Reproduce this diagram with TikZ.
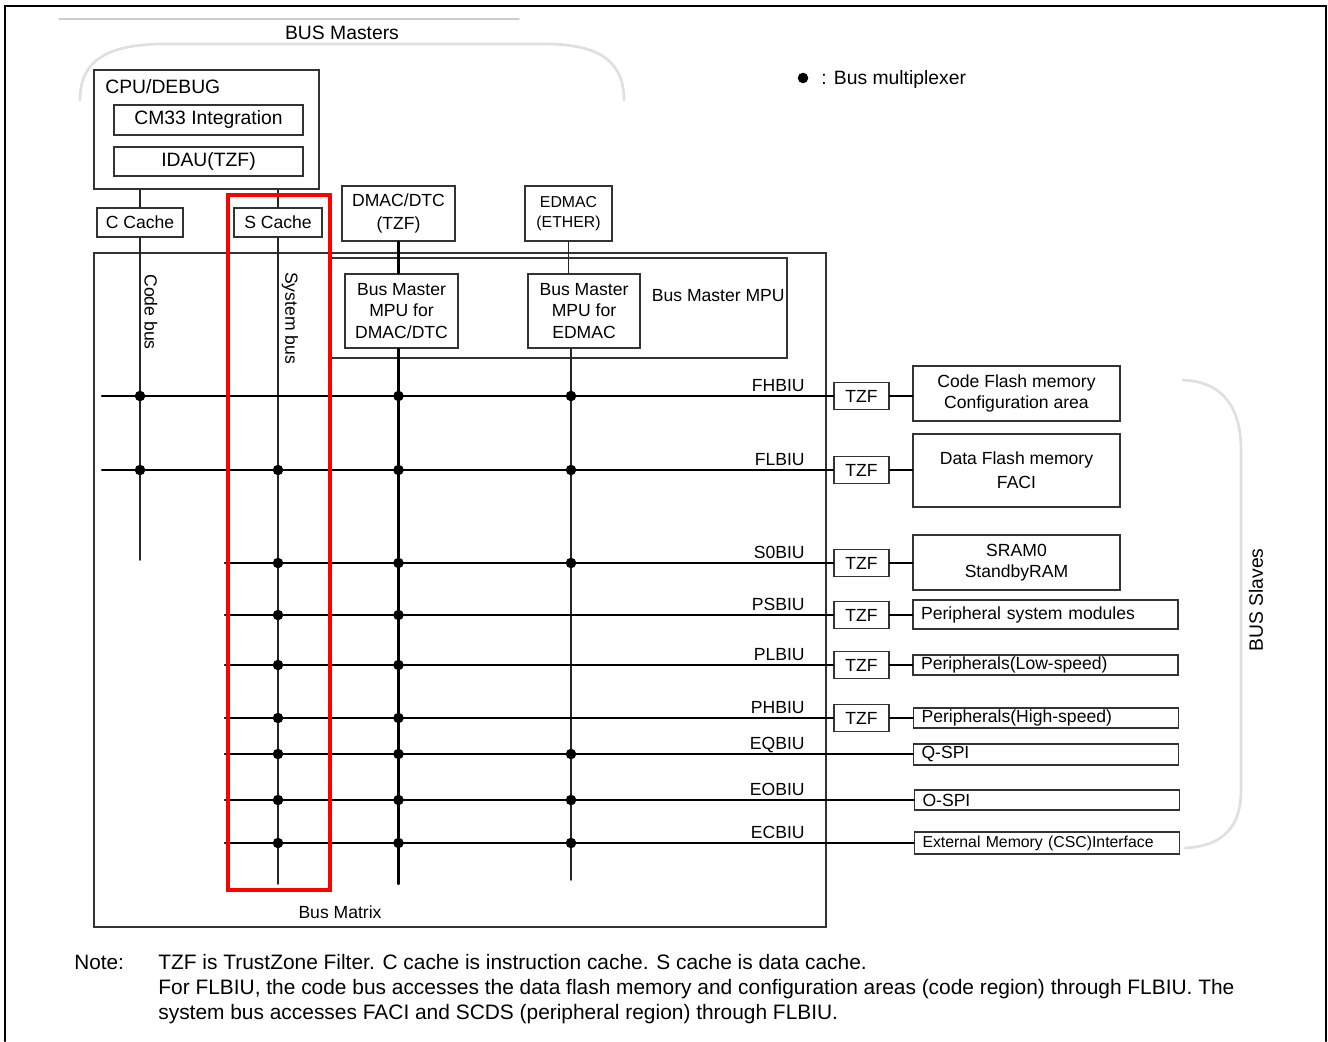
\documentclass[tikz,border=0pt]{standalone}
\usepackage{fontspec}
\setmainfont{Liberation Sans}
\usepackage{xcolor}

\tikzset{
  box/.style={draw=black!80,line width=0.8pt,inner sep=0pt,align=center},
  wh/.style 2 args={minimum width=#1*0.02cm,minimum height=#2*0.02cm},
  slavel/.style={box,align=left,text width=4.98cm,inner xsep=0.16cm},
  bus/.style={line width=1.2pt},
  link/.style={line width=0.9pt,black!85},
  bracket/.style={gray!25,line width=1.5pt},
  buslbl/.style={anchor=base east,inner sep=0pt},
  big/.style={font=\fontsize{11}{13}\selectfont},
  small/.style={font=\fontsize{9}{11.3}\selectfont},
}

\begin{document}
\begin{tikzpicture}[x=0.02cm,y=-0.02cm,font=\fontsize{10}{12.2}\selectfont,line cap=round]
\useasboundingbox (0,0) rectangle (1328,1041);
% outer frame
\draw[line width=1.2pt] (5,1041) -- (5,6) -- (1326,6) -- (1326,1041);

% bus masters
\draw[gray!40,line width=0.8pt] (59,19) -- (519,19);
\node[big] (bmlbl) at (342,33) {BUS Masters};
\draw[bracket] (80,100) .. controls (80,62) and (105,44) .. (165,44) -- (545,44) .. controls (600,44) and (624,62) .. (624,100);

\node[box,wh={225}{119}] (cpu) at (206.5,129.5) {};
\node[big,anchor=west,inner sep=0pt] (cpulbl) at (105,87) {CPU/DEBUG};
\node[box,big,wh={189}{30}] (cm33) at (208.5,120) {CM33 Integration};
\node[box,big,wh={189}{29}] (idau) at (208.5,161.5) {IDAU(TZF)};
\node[box,wh={86}{29}] (ccache) at (140,222.5) {C Cache};
\node[box,wh={88}{29}] (scache) at (278,222.5) {S Cache};
\node[box,wh={113}{55},font=\fontsize{10}{13}\selectfont] (dmac) at (398.5,213.5) {DMAC/DTC\\(TZF)};
\node[box,small,wh={87}{55}] (edmac) at (568.5,213.5) {EDMAC\\(ETHER)};

% bus matrix
\node[box,wh={732}{674}] (matrix) at (460,590) {};
\node (mtxlbl) at (340,912) {Bus Matrix};
\node[box,wh={457}{100}] (mpu) at (558.5,308) {};
\node[anchor=east,inner sep=0pt] (mpulbl) at (785,296) {Bus Master MPU};
\node[box,wh={113}{74}] (mpud) at (401.5,311) {Bus Master\\MPU for\\DMAC/DTC};
\node[box,wh={112}{74}] (mpue) at (584,311) {Bus Master\\MPU for\\EDMAC};

\draw[link] (ccache.north) -- (ccache.north |- cpu.south);
\draw[link] (scache.north) -- (scache.north |- cpu.south);
\draw[bus] (dmac.south) -- (dmac.south |- mpud.north);
\draw[link] (edmac.south) -- (edmac.south |- mpue.north);

\coordinate (cbend) at (140,560);
\coordinate (sbend) at (278,884);
\coordinate (dbend) at (398.5,884);
\coordinate (ebend) at (571,880);
\draw[link] (ccache.south) -- (cbend);
\draw[link] (scache.south) -- (sbend);
\draw[bus] (mpud.south -| dbend) -- (dbend);
\draw[link] (mpue.south -| ebend) -- (ebend);
\node[rotate=-90] (cblbl) at (151,312) {Code bus};
\node[rotate=-90] (sblbl) at (290,318) {System bus};

% bus slaves
\node[box,wh={55}{27}] (tzffh) at (861.5,396) {TZF};
\node[box,wh={55}{27}] (tzffl) at (861.5,470) {TZF};
\node[box,wh={55}{27}] (tzfs0) at (861.5,563) {TZF};
\node[box,wh={55}{27}] (tzfps) at (861.5,615) {TZF};
\node[box,wh={55}{27}] (tzfpl) at (861.5,665) {TZF};
\node[box,wh={55}{27}] (tzfph) at (861.5,718) {TZF};

\node[box,wh={207}{55}] (cfm) at (1016.5,393.5) {Code Flash memory\\Configuration area};
\node[box,wh={207}{73},font=\fontsize{10}{13.5}\selectfont] (dfm) at (1016.5,470.5) {Data Flash memory\\FACI};
\node[box,wh={207}{55}] (sram) at (1016.5,562.5) {SRAM0\\StandbyRAM};
\node[slavel,wh={265}{29}] (psm) at (1045.5,614.5) {Peripheral system modules};
\node[slavel,wh={265}{20}] (pls) at (1045.5,665) {Peripherals(Low-speed)};
\node[slavel,wh={265}{20}] (phs) at (1046,718) {Peripherals(High-speed)};
\node[slavel,wh={265}{21}] (qspi) at (1046,754.5) {Q-SPI};
\node[slavel,wh={265}{20}] (ospi) at (1047,800) {O-SPI};
\node[slavel,wh={265}{22},small] (ext) at (1047,843) {External Memory (CSC)Interface};

\coordinate (fh) at (102,396);
\coordinate (fl) at (102,470);
\coordinate (s0) at (225,563);
\coordinate (ps) at (225,615);
\coordinate (pl) at (225,665);
\coordinate (ph) at (225,718);
\coordinate (eq) at (225,754);
\coordinate (eo) at (225,800);
\coordinate (ec) at (225,843);
\draw[bus] (fh) -- (tzffh.west);
\draw[bus] (fl) -- (tzffl.west);
\draw[bus] (s0) -- (tzfs0.west);
\draw[bus] (ps) -- (tzfps.west);
\draw[bus] (pl) -- (tzfpl.west);
\draw[bus] (ph) -- (tzfph.west);
\draw[bus] (eq) -- (qspi.west |- eq);
\draw[bus] (eo) -- (ospi.west |- eo);
\draw[bus] (ec) -- (ext.west |- ec);
\draw[bus] (tzffh.east) -- (cfm.west |- tzffh.east);
\draw[bus] (tzffl.east) -- (dfm.west |- tzffl.east);
\draw[bus] (tzfs0.east) -- (sram.west |- tzfs0.east);
\draw[bus] (tzfps.east) -- (psm.west |- tzfps.east);
\draw[bus] (tzfpl.east) -- (pls.west |- tzfpl.east);
\draw[bus] (tzfph.east) -- (phs.west |- tzfph.east);

\node[buslbl] (lfh) at (805,391) {FHBIU};
\node[buslbl] (lfl) at (805,465) {FLBIU};
\node[buslbl] (ls0) at (805,558) {S0BIU};
\node[buslbl] (lps) at (805,610) {PSBIU};
\node[buslbl] (lpl) at (805,660) {PLBIU};
\node[buslbl] (lph) at (805,713) {PHBIU};
\node[buslbl] (leq) at (805,749) {EQBIU};
\node[buslbl] (leo) at (805,795) {EOBIU};
\node[buslbl] (lec) at (805,838) {ECBIU};

% bus multiplexers
\fill (140,396) circle (3pt) (398.5,396) circle (3pt) (571,396) circle (3pt);
\fill (140,470) circle (3pt) (278,470) circle (3pt) (398.5,470) circle (3pt) (571,470) circle (3pt);
\fill (278,563) circle (3pt) (398.5,563) circle (3pt) (571,563) circle (3pt);
\fill (278,615) circle (3pt) (398.5,615) circle (3pt);
\fill (278,665) circle (3pt) (398.5,665) circle (3pt);
\fill (278,718) circle (3pt) (398.5,718) circle (3pt);
\fill (278,754) circle (3pt) (398.5,754) circle (3pt) (571,754) circle (3pt);
\fill (278,800) circle (3pt) (398.5,800) circle (3pt) (571,800) circle (3pt);
\fill (278,843) circle (3pt) (398.5,843) circle (3pt) (571,843) circle (3pt);

\draw[bracket] (1183,380) .. controls (1225,382) and (1241,410) .. (1241,450) -- (1241,790) .. controls (1241,825) and (1225,846) .. (1185,848);
\node[big,rotate=90] (bslbl) at (1256,600) {BUS Slaves};

% legend
\fill (803,78) circle (3pt);
\node[big,anchor=base west,inner sep=0pt] (legend) at (821,84) {: Bus multiplexer};

% highlight
\draw[red,line width=2.3pt] (228,195) rectangle (330,890);

% note
\node[anchor=base west,inner sep=0pt,font=\fontsize{11.8}{14.2}\selectfont] (notelbl) at (74,969) {Note:};
\node[anchor=north west,align=left,inner sep=0pt,font=\fontsize{11.9}{14.2}\selectfont] (notetxt) at (158,954) {TZF is TrustZone Filter. C cache is instruction cache. S cache is data cache.\\For FLBIU, the code bus accesses the data flash memory and configuration areas (code region) through FLBIU. The\\system bus accesses FACI and SCDS (peripheral region) through FLBIU.};
\end{tikzpicture}
\end{document}
